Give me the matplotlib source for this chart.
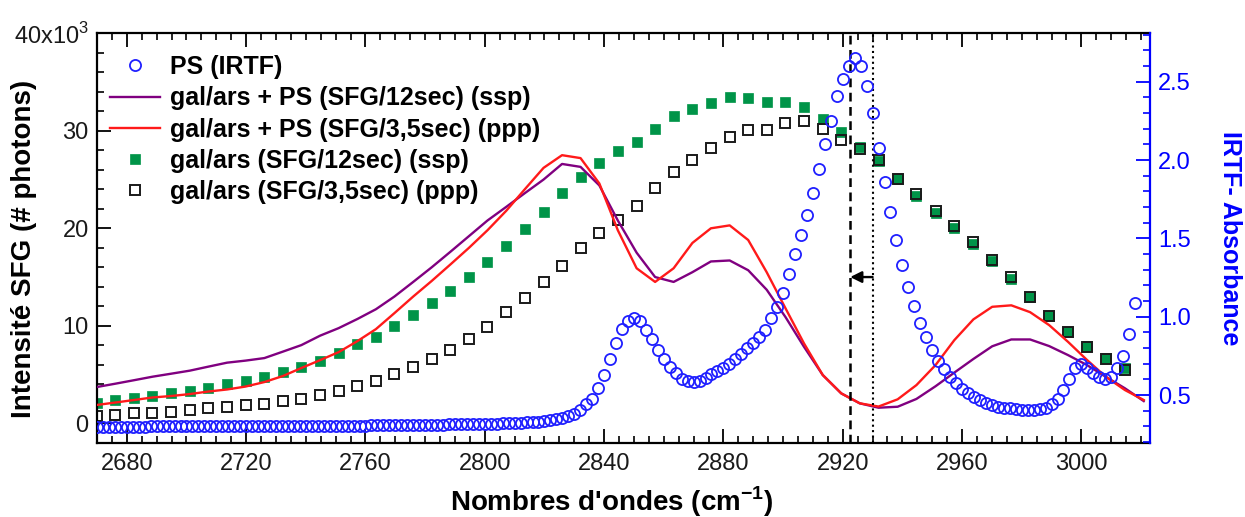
import numpy as np
import matplotlib
matplotlib.use("Agg")
import matplotlib.pyplot as plt
from matplotlib.ticker import MultipleLocator, FixedLocator, FuncFormatter

plt.rcParams['font.family'] = ['Liberation Sans', 'DejaVu Sans']
plt.rcParams['mathtext.fontset'] = 'custom'
plt.rcParams['mathtext.rm'] = 'Liberation Sans'
plt.rcParams['mathtext.bf'] = 'Liberation Sans:bold'

# ---------------- data ----------------
# IR absorbance of PS (right axis), sampled every 2 cm-1 from 2670 to 3018
ir_start, ir_step = 2670, 2
ir_absorb = [
    0.298, 0.298, 0.298, 0.298, 0.299, 0.299, 0.299, 0.299, 0.299, 0.300, 0.300, 0.300, 0.300, 0.300, 0.300,
    0.300, 0.300, 0.300, 0.301, 0.301, 0.301, 0.301, 0.301, 0.301, 0.302, 0.302, 0.302, 0.302, 0.302, 0.303,
    0.303, 0.303, 0.303, 0.303, 0.303,
    0.303, 0.303, 0.304, 0.304, 0.304, 0.304, 0.305, 0.305, 0.305, 0.305, 0.305, 0.306, 0.306, 0.306, 0.307,
    0.307, 0.308, 0.308, 0.309, 0.309,
    0.310, 0.310, 0.311, 0.311, 0.312, 0.312, 0.313, 0.314, 0.314, 0.315,
    0.316, 0.317, 0.318, 0.319, 0.320, 0.322, 0.323, 0.325, 0.327, 0.329,
    0.335, 0.340, 0.347, 0.356, 0.365, 0.380, 0.405, 0.440, 0.475, 0.545,
    0.630, 0.730, 0.835, 0.920, 0.970, 0.990, 0.970, 0.915, 0.855, 0.790,
    0.730, 0.680, 0.640, 0.605, 0.590, 0.585, 0.590, 0.610, 0.633, 0.655,
    0.675, 0.700, 0.730, 0.765, 0.800, 0.835, 0.870, 0.915, 0.990, 1.060,
    1.150, 1.270, 1.400, 1.520, 1.650, 1.790, 1.940, 2.100, 2.250, 2.410,
    2.520, 2.600, 2.650, 2.600, 2.470, 2.300, 2.080, 1.860, 1.670, 1.490,
    1.330, 1.190, 1.070, 0.960, 0.870, 0.790, 0.720, 0.665, 0.615, 0.575,
    0.540, 0.510, 0.488, 0.468, 0.450, 0.436, 0.426, 0.420, 0.415, 0.410,
    0.406, 0.404, 0.404, 0.410, 0.420, 0.440, 0.475, 0.530, 0.600, 0.670,
    0.700, 0.670, 0.640, 0.615, 0.600, 0.615, 0.670, 0.750, 0.890, 1.090,
]
ir_wn = ir_start + ir_step * np.arange(len(ir_absorb))

# SFG wavenumbers (cm-1); last one only for the two curves
sfg_wn = [
    2669.9, 2676.1, 2682.4, 2688.6, 2694.9, 2701.1, 2707.3, 2713.6, 2719.8, 2726.1,
    2732.3, 2738.5, 2744.8, 2751.0, 2757.3, 2763.5, 2769.7, 2776.0, 2782.2, 2788.5,
    2794.7, 2800.9, 2807.2, 2813.4, 2819.7, 2825.9, 2832.1, 2838.4, 2844.6, 2850.9,
    2857.1, 2863.3, 2869.6, 2875.8, 2882.1, 2888.3, 2894.5, 2900.8, 2907.0, 2913.3,
    2919.5, 2925.7, 2932.0, 2938.4, 2944.7, 2951.1, 2957.4, 2963.8, 2970.1, 2976.5,
    2982.8, 2989.2, 2995.5, 3001.9, 3008.2, 3014.6, 3020.9,
]

# SFG intensity in thousands of photons
ssp_galars_ps = [
    3.72, 4.06, 4.42, 4.78, 5.09, 5.40, 5.81, 6.22, 6.43, 6.69,
    7.35, 8.02, 8.99, 9.76, 10.7, 11.7, 13.0, 14.5, 16.0, 17.6,
    19.2, 20.8, 22.2, 23.6, 25.0, 26.6, 26.3, 24.4, 20.8, 17.5,
    15.0, 14.5, 15.5, 16.6, 16.7, 15.7, 13.7, 10.9, 7.85, 4.95,
    3.07, 2.05, 1.60, 1.70, 2.50, 3.80, 5.20, 6.60, 7.90, 8.60,
    8.60, 7.92, 7.00, 5.97, 4.77, 3.59, 2.28,
]
ppp_galars_ps = [
    1.88, 2.13, 2.39, 2.65, 2.80, 3.00, 3.26, 3.47, 3.77, 4.23,
    4.85, 5.67, 6.48, 7.30, 8.43, 9.66, 11.3, 13.0, 14.6, 16.3,
    18.0, 19.8, 21.8, 24.0, 26.2, 27.5, 27.2, 24.6, 19.8, 15.9,
    14.5, 15.9, 18.5, 20.0, 20.3, 18.8, 15.5, 11.8, 8.20, 4.95,
    3.07, 2.05, 1.72, 2.46, 3.92, 5.97, 8.53, 10.66, 11.95, 12.1,
    11.4, 10.07, 8.36, 6.49, 4.77, 3.41, 2.39,
]
ssp_galars = [
    2.11, 2.39, 2.62, 2.83, 3.07, 3.34, 3.65, 4.00, 4.33, 4.71,
    5.22, 5.80, 6.41, 7.23, 8.09, 8.87, 10.0, 11.1, 12.3, 13.6,
    15.0, 16.5, 18.2, 19.9, 21.7, 23.6, 25.3, 26.7, 27.9, 28.85,
    30.2, 31.5, 32.2, 32.85, 33.5, 33.4, 32.95, 32.95, 32.4, 31.25,
    29.9, 28.3, 26.9, 25.1, 23.3, 21.6, 20.0, 18.4, 16.6, 14.8,
    12.97, 11.0, 9.32, 7.95, 6.66, 5.63,
]
ppp_galars = [
    0.80, 0.90, 1.02, 1.09, 1.20, 1.40, 1.54, 1.70, 1.87, 2.00,
    2.25, 2.45, 2.90, 3.34, 3.82, 4.37, 5.02, 5.80, 6.60, 7.50,
    8.60, 9.90, 11.4, 12.9, 14.5, 16.1, 18.0, 19.5, 20.9, 22.3,
    24.1, 25.8, 27.0, 28.2, 29.4, 30.05, 30.1, 30.8, 31.0, 30.2,
    29.1, 28.1, 27.0, 25.1, 23.5, 21.75, 20.2, 18.6, 16.8, 15.0,
    12.97, 11.0, 9.32, 7.85, 6.56, 5.46,
]

markers_wn = [2922.5, 2930.0]
arrow_level = 15.0

labels = [
    "PS (IRTF)",
    "gal/ars + PS (SFG/12sec) (ssp)",
    "gal/ars + PS (SFG/3,5sec) (ppp)",
    "gal/ars (SFG/12sec) (ssp)",
    "gal/ars (SFG/3,5sec) (ppp)",
]

# ---------------- styles ----------------
BLUE = '#1f1fff'
PURPLE = '#800080'
RED = '#ff1a1a'
GREEN = '#009448'
DARK = '#1a1a1a'
TICK_FS = 17

W, H = 1245, 517
fig = plt.figure(figsize=(W / 100, H / 100), dpi=100)
L, R, B, T = 97, 1150, 443.3, 33.3
ax = fig.add_axes([L / W, 1 - B / H, (R - L) / W, (B - T) / H])
ax2 = ax.twinx()

sfg_wn_arr = np.array(sfg_wn)
n_sq = len(ssp_galars)
k = 1000.0

l_ssp, = ax.plot(sfg_wn_arr, np.array(ssp_galars_ps) * k, color=PURPLE, lw=1.7, zorder=3)
l_ppp, = ax.plot(sfg_wn_arr, np.array(ppp_galars_ps) * k, color=RED, lw=1.7, zorder=3)
s_ssp, = ax.plot(sfg_wn_arr[:n_sq], np.array(ssp_galars) * k, ls='none', marker='s', ms=7.8,
                 mfc=GREEN, mec=GREEN, mew=0.5, zorder=2)
s_ppp, = ax.plot(sfg_wn_arr[:n_sq], np.array(ppp_galars) * k, ls='none', marker='s', ms=7.6,
                 mfc='none', mec=DARK, mew=1.4, zorder=2)

ax.axvline(markers_wn[0], color='k', ls=(0, (3.5, 2.2)), lw=1.8, zorder=4)
ax.axvline(markers_wn[1], color='k', ls=(0, (1, 1.6)), lw=1.5, zorder=4)
ax.annotate('', xy=(markers_wn[0], arrow_level * k), xytext=(markers_wn[1], arrow_level * k),
            arrowprops=dict(arrowstyle='-|>', color='k', lw=1.7, mutation_scale=17,
                            shrinkA=0, shrinkB=0), zorder=5)

c_ir, = ax2.plot(ir_wn, ir_absorb, ls='none', marker='o', ms=8.0, mfc='none',
                 mec=BLUE, mew=1.3, zorder=3)

# ---------------- axes ----------------
ax.set_xlim(2670, 3023)
ax.set_ylim(-2050, 40000)
ax2.set_ylim(0.192, 2.809)

ax.xaxis.set_major_locator(MultipleLocator(40))
ax.xaxis.set_minor_locator(MultipleLocator(5))
ax.yaxis.set_major_locator(FixedLocator([0, 10000, 20000, 30000, 40000]))
ax.yaxis.set_minor_locator(MultipleLocator(2000))
ax.yaxis.set_major_formatter(FuncFormatter(
    lambda v, p: '40x10$^{3}$' if v >= 39999 else f"{v / 1000:.0f}"))
ax2.yaxis.set_major_locator(MultipleLocator(0.5))
ax2.yaxis.set_minor_locator(MultipleLocator(0.1))
ax2.yaxis.set_major_formatter(FuncFormatter(lambda v, p: f"{v:.1f}"))

for a in (ax, ax2):
    for s in a.spines.values():
        s.set_linewidth(1.6)
ax.spines['right'].set_visible(False)
for s in ('left', 'top', 'bottom'):
    ax2.spines[s].set_visible(False)
ax2.spines['right'].set_color('blue')

ax.tick_params(axis='x', which='both', direction='in', top=True, bottom=True,
               labelsize=TICK_FS, labelcolor=DARK, pad=7, color='k')
ax.tick_params(axis='x', which='major', length=10, width=1.3)
ax.tick_params(axis='x', which='minor', length=5, width=1.2)
ax.tick_params(axis='y', which='both', direction='in', left=True, right=False,
               labelsize=TICK_FS, labelcolor=DARK, pad=6)
ax.tick_params(axis='y', which='major', length=10, width=1.3)
ax.tick_params(axis='y', which='minor', length=5, width=1.2)
ax2.tick_params(axis='y', which='both', direction='in', color='blue',
                labelsize=TICK_FS, labelcolor='blue', pad=6)
ax2.tick_params(axis='y', which='major', length=10, width=1.3)
ax2.tick_params(axis='y', which='minor', length=5, width=1.2)

ax.set_xlabel(r"Nombres d'ondes (cm$^{\mathbf{-1}}$)", fontsize=20, fontweight='bold')
ax.xaxis.set_label_coords(0.489, -0.10)
ax.set_ylabel("Intensité SFG (# photons)", fontsize=20, fontweight='bold')
ax.yaxis.set_label_coords(-0.057, 0.475)
ax2.set_ylabel("IRTF- Absorbance", fontsize=18, fontweight='bold', color='blue',
               rotation=-90, va='center')
ax2.yaxis.set_label_coords(1.076, 0.5)

handles = [c_ir, l_ssp, l_ppp, s_ssp, s_ppp]
leg = ax2.legend(handles, labels, loc='upper left', frameon=False,
                 bbox_to_anchor=(110 / W, 1 - 55 / H), bbox_transform=fig.transFigure,
                 borderaxespad=0, borderpad=0, handlelength=2.0, handletextpad=0.42,
                 labelspacing=0.29, prop={'weight': 'bold', 'size': 18})

fig.savefig('out.png', dpi=100)
